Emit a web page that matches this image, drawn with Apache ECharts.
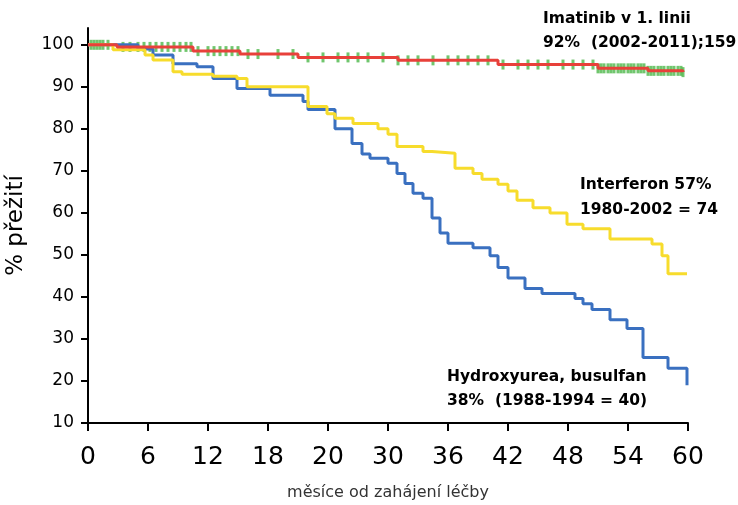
<!DOCTYPE html>
<html lang="cs">
  <head>
    <meta charset="UTF-8" />
    <title>Přežití</title>
    <script src="https://cdn.jsdelivr.net/npm/echarts@6/dist/echarts.min.js"></script>
    <style>
      * { margin: 0; padding: 0; }
    </style>
  </head>
  <body>
    <div id="charts" style="width: 738px; height: 505px"></div>
    <script>
      // tick labels as printed on the original x axis
      var xLabels = ["0", "6", "12", "18", "20", "30", "36", "42", "48", "54", "60"];

      // [months, % survival] step points
      var hydroxyurea = [
        [0, 100], [5, 99], [6.5, 97.6], [8.5, 95.5], [10.9, 94.8], [12.5, 92], [14.9, 89.6],
        [18.2, 88], [21.5, 86.5], [22, 84.6], [24.7, 80], [26.4, 76.5], [27.4, 74], [28.2, 73],
        [30, 71.8], [30.9, 69.4], [31.7, 67], [32.5, 64.7], [33.5, 63.5], [34.4, 58.8],
        [35.2, 55.2], [36, 52.8], [38.5, 51.7], [40.2, 49.8], [41, 47], [42, 44.5], [43.7, 42],
        [45.4, 40.8], [48.7, 39.6], [49.5, 38.4], [50.4, 37], [52.2, 34.6], [53.9, 32.5],
        [55.5, 25.6], [58, 23], [59.9, 19]
      ];
      var interferon = [
        [0, 100], [2.5, 98.8], [5.7, 97.6], [6.5, 96.4], [8.5, 93.6], [9.4, 93], [12.5, 92.5],
        [14.9, 92], [15.9, 90], [22, 85.3], [23.9, 83.6], [24.7, 82.5], [26.5, 81.3], [29, 80],
        [30, 78.7], [30.9, 75.8], [33.5, 74.6], [34.4, 74.2], [36.7, 70.6], [38.5, 69.4],
        [39.4, 68], [41, 66.8], [42, 65.2], [42.9, 63], [44.5, 61.2], [46.2, 60], [47.9, 57.3],
        [49.5, 56.2], [52.2, 53.8], [56.4, 52.6], [57.4, 49.8], [58, 45.5], [59.9, 45.5]
      ];
      var imatinib = [
        [0, 100], [2.9, 99.5], [10.5, 98.5], [15.2, 97.8], [21, 97], [31, 96.3], [41, 95.3],
        [51, 94.4], [56, 93.8], [59.5, 93.5]
      ];
      // censored observations (months)
      var censored = [
        0.3, 0.6, 0.9, 1.2, 1.5, 2, 3.5, 4.2, 5, 5.6, 6.2, 6.8, 7.4, 8, 8.6, 9.2, 9.8, 10.3,
        11, 12, 12.6, 13.2, 13.8, 14.4, 15, 16, 17, 19, 20.5, 22, 23.5, 25, 26, 27, 28, 29.5,
        31, 32, 33, 34.5, 36, 37, 38, 39, 40, 41.5, 43, 44, 45, 46, 47.5, 48.5, 49.5, 50.5,
        51, 51.3, 51.6, 52, 52.3, 52.6, 53, 53.3, 53.6, 54, 54.3, 54.6, 55, 55.3, 55.6, 56,
        56.3, 56.6, 57, 57.3, 57.6, 58, 58.3, 58.6, 59, 59.3, 59.5
      ];

      function valueAt(curve, t) {
        var v = curve[0][1];
        curve.forEach((p) => { if (p[0] <= t) v = p[1]; });
        return v;
      }
      var censorPts = censored.map((t) => [t, valueAt(imatinib, t)]);

      var myEcharts = echarts.init(document.getElementById("charts"));
      var boldText = { fontFamily: "DejaVu Sans", fontSize: 15.5, fontWeight: "bold", fill: "#000" };
      var options = {
        animation: false,
        grid: { left: 88, right: 50, top: 28, bottom: 82, outerBoundsMode: "none" },
        xAxis: {
          type: "value", min: 0, max: 60, interval: 6,
          name: "měsíce od zahájení léčby", nameLocation: "middle", nameGap: 62,
          nameTextStyle: { fontFamily: "DejaVu Sans", fontSize: 16, color: "#333" },
          axisLine: { lineStyle: { color: "#000", width: 2 } },
          axisTick: { length: 8, lineStyle: { color: "#000", width: 2 } },
          axisLabel: {
            margin: 22, fontFamily: "DejaVu Sans", fontSize: 25, color: "#000",
            formatter: (v) => xLabels[Math.round(v / 6)],
          },
          splitLine: { show: false },
        },
        yAxis: {
          type: "value", min: 10, max: 104, interval: 10,
          name: "% přežití", nameLocation: "middle", nameGap: 60, nameRotate: 90,
          nameTextStyle: { fontFamily: "DejaVu Sans", fontSize: 23, color: "#000" },
          axisLine: { show: true, lineStyle: { color: "#000", width: 2 } },
          axisTick: { show: true, length: 7, lineStyle: { color: "#000", width: 2 } },
          axisLabel: { showMaxLabel: false, margin: 14, fontFamily: "DejaVu Sans", fontSize: 17, color: "#000" },
          splitLine: { show: false },
        },
        series: [
          { type: "line", step: "end", data: hydroxyurea, symbol: "none", lineStyle: { color: "#3a70c0", width: 3 } },
          { type: "line", step: "end", data: interferon, symbol: "none", lineStyle: { color: "#f7dc2c", width: 3 } },
          { type: "line", step: "end", data: imatinib, symbol: "none", lineStyle: { color: "#e8403a", width: 3 } },
          { type: "scatter", data: censorPts, symbol: "rect", symbolSize: [3, 10], itemStyle: { color: "#4cb848" } },
        ],
        graphic: [
          { type: "text", left: 543, top: 11, style: Object.assign({ text: "Imatinib v 1. linii" }, boldText) },
          { type: "text", left: 543, top: 35, style: Object.assign({ text: "92%  (2002-2011);159" }, boldText) },
          { type: "text", left: 580, top: 177, style: Object.assign({ text: "Interferon 57%" }, boldText) },
          { type: "text", left: 580, top: 202, style: Object.assign({ text: "1980-2002 = 74" }, boldText) },
          { type: "text", left: 447, top: 369, style: Object.assign({ text: "Hydroxyurea, busulfan" }, boldText) },
          { type: "text", left: 447, top: 393, style: Object.assign({ text: "38%  (1988-1994 = 40)" }, boldText) },
        ],
      };
      myEcharts.setOption(options);
    </script>
  </body>
</html>
